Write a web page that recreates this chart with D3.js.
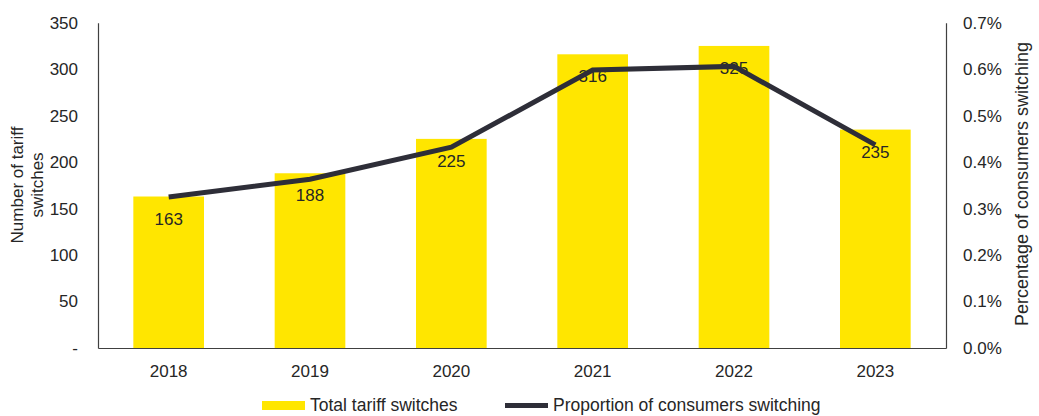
<!DOCTYPE html>
<html>
<head>
<meta charset="utf-8">
<script src="https://cdn.jsdelivr.net/npm/d3@7"></script>
<style>
  body { margin: 0; background: #fff; }
  svg text { font-family: Arial, "Liberation Sans", sans-serif; fill: #262626; }
</style>
</head>
<body>
<div id="chart"></div>
<script>
const years = ["2018", "2019", "2020", "2021", "2022", "2023"];
const switches = [163, 188, 225, 316, 325, 235];
const proportion = [0.00325, 0.00363, 0.00432, 0.00598, 0.00606, 0.00437];
const leftTicks = [0, 50, 100, 150, 200, 250, 300, 350];
const rightTicks = [0, 0.001, 0.002, 0.003, 0.004, 0.005, 0.006, 0.007];

const svg = d3.select("#chart")
    .append("svg")
    .attr("width", 1039)
    .attr("height", 416);

const plotLeft = 98, plotRight = 946, plotTop = 22.7, plotBottom = 348;
const fontSize = "17px";

const x = d3.scaleBand()
    .domain(years)
    .range([plotLeft, plotRight])
    .paddingInner(0.5)
    .paddingOuter(0.25);

const yL = d3.scaleLinear().domain([0, 350]).range([plotBottom, plotTop]);
const yR = d3.scaleLinear().domain([0, 0.007]).range([plotBottom, plotTop]);

// bars
svg.append("g")
    .selectAll("rect")
    .data(years)
    .enter()
    .append("rect")
    .attr("x", d => x(d))
    .attr("width", x.bandwidth())
    .attr("y", (d, i) => yL(switches[i]))
    .attr("height", (d, i) => plotBottom - yL(switches[i]))
    .attr("fill", "#ffe600");

// bar labels
svg.append("g")
    .selectAll("text")
    .data(years)
    .enter()
    .append("text")
    .attr("x", d => x(d) + x.bandwidth() / 2)
    .attr("y", (d, i) => yL(switches[i]) + 28)
    .attr("text-anchor", "middle")
    .style("font-size", fontSize)
    .text((d, i) => switches[i]);

// line
const line = d3.line()
    .x((d, i) => x(years[i]) + x.bandwidth() / 2)
    .y(d => yR(d));

svg.append("path")
    .datum(proportion)
    .attr("d", line)
    .attr("fill", "none")
    .attr("stroke", "#2e2e38")
    .attr("stroke-width", 5);

// axes
const axisLeft = svg.append("g")
    .attr("transform", `translate(${plotLeft},0)`)
    .call(d3.axisLeft(yL).tickValues(leftTicks).tickSize(0).tickPadding(20)
        .tickFormat(d => d === 0 ? "-" : d));

const axisRight = svg.append("g")
    .attr("transform", `translate(${plotRight},0)`)
    .call(d3.axisRight(yR).tickValues(rightTicks).tickSize(0).tickPadding(17)
        .tickFormat(d3.format(".1%")));

const axisBottom = svg.append("g")
    .attr("transform", `translate(0,${plotBottom})`)
    .call(d3.axisBottom(x).tickSize(0).tickPadding(17));

[axisLeft, axisRight, axisBottom].forEach(a => {
    a.select(".domain").attr("stroke", "#404040").attr("stroke-width", 1.2);
    a.selectAll("text")
        .style("font-size", fontSize)
        .style("font-family", "Arial, 'Liberation Sans', sans-serif")
        .attr("fill", "#262626");
});

// axis titles
const leftTitle = svg.append("text")
    .attr("transform", "translate(23,185) rotate(-90)")
    .attr("text-anchor", "middle")
    .style("font-size", fontSize);
leftTitle.append("tspan").attr("x", 0).attr("dy", 0).text("Number of tariff");
leftTitle.append("tspan").attr("x", 0).attr("dy", 20).text("switches");

svg.append("text")
    .attr("transform", "translate(1028,184) rotate(-90)")
    .attr("text-anchor", "middle")
    .style("font-size", "18px")
    .text("Percentage of consumers switching");

// legend (sits right at the bottom edge, kept whole)
const legend = svg.append("g");
legend.append("rect")
    .attr("x", 262).attr("y", 401)
    .attr("width", 43).attr("height", 9)
    .attr("fill", "#ffe600");
legend.append("text")
    .attr("x", 310).attr("y", 411)
    .style("font-size", "17.5px")
    .text("Total tariff switches");
legend.append("line")
    .attr("x1", 505).attr("x2", 548)
    .attr("y1", 405.5).attr("y2", 405.5)
    .attr("stroke", "#2e2e38")
    .attr("stroke-width", 5);
legend.append("text")
    .attr("x", 553).attr("y", 411)
    .style("font-size", "17.5px")
    .text("Proportion of consumers switching");
</script>
</body>
</html>
